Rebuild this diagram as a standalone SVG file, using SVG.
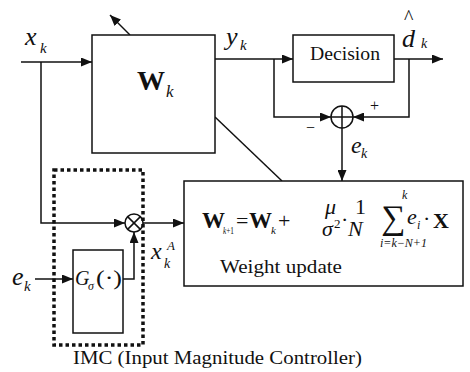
<svg xmlns="http://www.w3.org/2000/svg" width="470" height="372" viewBox="0 0 470 372">
<style>
.ln{fill:none;stroke:#111;stroke-width:1.5}
.bx{fill:#fff;stroke:#111;stroke-width:1.5}
text{font-family:'Liberation Serif','Times New Roman',serif;fill:#111}
.i{font-style:italic}
.b{font-weight:bold}
.dot{fill:none;stroke:#111;stroke-width:3.5;stroke-dasharray:3.5 3}
</style>
<defs>
<marker id="ah" markerUnits="userSpaceOnUse" markerWidth="11" markerHeight="9" refX="11" refY="4.5" orient="auto">
<path d="M0,0 L11,4.5 L0,9 z" fill="#111"/>
</marker>
</defs>
<g id="connectors">
<path class="ln" d="M21,62 H92" marker-end="url(#ah)"/>
<path class="ln" d="M41,62 V223 H125" marker-end="url(#ah)"/>
<path class="ln" d="M130,35 L110,15" marker-end="url(#ah)"/>
<path class="ln" d="M215,59 H293" marker-end="url(#ah)"/>
<path class="ln" d="M394,59 H443" marker-end="url(#ah)"/>
<path class="ln" d="M274,59 V117 H331" marker-end="url(#ah)"/>
<path class="ln" d="M409,59 V117 H353" marker-end="url(#ah)"/>
<path class="ln" d="M342,128 V181" marker-end="url(#ah)"/>
<path class="ln" d="M215,117 L282,181"/>
<path class="ln" d="M143,223 H184" marker-end="url(#ah)"/>
<path class="ln" d="M35,279 H73" marker-end="url(#ah)"/>
<path class="ln" d="M123,279 H134 V232" marker-end="url(#ah)"/>
</g>
<g id="W">
<rect class="bx" x="92" y="35" width="123" height="118"/>
<text class="b" x="137" y="90" font-size="28">W</text>
<text class="i" x="166" y="97" font-size="17">k</text>
</g>
<g id="decision">
<rect class="bx" x="293" y="35" width="101" height="47"/>
<text x="310" y="60" font-size="18" textLength="70" lengthAdjust="spacingAndGlyphs">Decision</text>
</g>
<g id="sum">
<circle class="bx" cx="342" cy="117" r="11"/>
<path class="ln" d="M331,117 H353 M342,106 V128"/>
</g>
<g id="mult">
<circle class="bx" cx="134" cy="223" r="9"/>
<path class="ln" d="M127.6,216.6 L140.4,229.4 M140.4,216.6 L127.6,229.4"/>
</g>
<g id="imc">
<rect class="dot" x="54" y="170" width="89" height="175"/>
<text x="73" y="364" font-size="18" textLength="289" lengthAdjust="spacingAndGlyphs">IMC (Input Magnitude Controller)</text>
</g>
<g id="G">
<rect class="bx" x="73" y="250" width="50" height="83"/>
<text class="i" x="75" y="285" font-size="20">G</text>
<text class="i" x="88" y="290" font-size="12">σ</text>
<text x="96" y="285" font-size="20" textLength="26" lengthAdjust="spacingAndGlyphs">(·)</text>
</g>
<g id="update">
<rect class="bx" x="184" y="181" width="279" height="105"/>
<text class="b" x="202" y="228" font-size="23">W</text>
<text x="223" y="234" font-size="11" textLength="11" lengthAdjust="spacingAndGlyphs"><tspan font-style="italic">k</tspan>+1</text>
<text x="236" y="228" font-size="22">=</text>
<text class="b" x="249" y="228" font-size="23">W</text>
<text class="i" x="271" y="234" font-size="11">k</text>
<text x="278" y="228" font-size="22">+</text>
<text class="i" x="325" y="214" font-size="22">μ</text>
<text class="i" x="322" y="236" font-size="22">σ</text>
<text x="334" y="228" font-size="13">2</text>
<text x="341" y="227" font-size="22">·</text>
<text x="355" y="214" font-size="22">1</text>
<text class="i" x="348" y="236" font-size="22">N</text>
<text x="381" y="229" font-size="34">∑</text>
<text class="i" x="402" y="199" font-size="12">k</text>
<text class="i" x="380" y="247" font-size="12">i=k−N+1</text>
<text class="i" x="407" y="224" font-size="22">e</text>
<text class="i" x="417" y="229" font-size="12">i</text>
<text x="423" y="226" font-size="22">·</text>
<text class="b" x="433" y="228" font-size="22">X</text>
<text x="220" y="273" font-size="18" textLength="122" lengthAdjust="spacingAndGlyphs">Weight update</text>
</g>
<g id="labels">
<text class="i" x="25" y="45" font-size="26">x</text>
<text class="i" x="40" y="53" font-size="15">k</text>
<text class="i" x="226" y="45" font-size="26">y</text>
<text class="i" x="240" y="50" font-size="15">k</text>
<text class="i" x="402" y="47" font-size="26">d</text>
<text class="i" x="421" y="48" font-size="14">k</text>
<text x="404" y="24" font-size="20">^</text>
<text class="i" x="351" y="153" font-size="24">e</text>
<text class="i" x="361" y="158" font-size="14">k</text>
<text class="i" x="12" y="285" font-size="26">e</text>
<text class="i" x="24" y="291" font-size="15">k</text>
<text class="i" x="151" y="259" font-size="24">x</text>
<text class="i" x="167" y="250" font-size="13">A</text>
<text class="i" x="164" y="268" font-size="14">k</text>
<text x="306" y="133" font-size="16">−</text>
<text x="370" y="111" font-size="16">+</text>
</g>
</svg>
